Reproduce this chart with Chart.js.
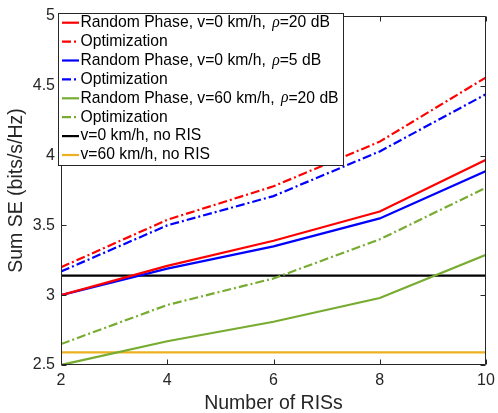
<!DOCTYPE html>
<html>
<head>
<meta charset="utf-8">
<script src="https://cdn.jsdelivr.net/npm/chart.js@4.4.0/dist/chart.umd.min.js"></script>
<style>
  body { margin: 0; background: #fff; }
  #wrap { width: 498px; height: 413px; }
</style>
</head>
<body>
<div id="wrap"><canvas id="my-chart" width="498" height="413"></canvas></div>
<script>
// number of RISs on the x axis
const risCounts = [2, 4, 6, 8, 10];
// sum SE values (bits/s/Hz)
const rpV0Rho20   = [3.00, 3.21, 3.39, 3.60, 3.97];
const optV0Rho20  = [3.20, 3.54, 3.78, 4.10, 4.56];
const rpV0Rho5    = [3.00, 3.19, 3.35, 3.55, 3.89];
const optV0Rho5   = [3.17, 3.50, 3.71, 4.03, 4.44];
const rpV60Rho20  = [2.50, 2.67, 2.81, 2.98, 3.29];
const optV60Rho20 = [2.65, 2.93, 3.12, 3.40, 3.77];
const noRisV0     = [3.14, 3.14, 3.14, 3.14, 3.14];
const noRisV60    = [2.59, 2.59, 2.59, 2.59, 2.59];
const xTicks = [2, 4, 6, 8, 10];
const yTicks = [2.5, 3, 3.5, 4, 4.5, 5];

const labels = [
  'Random Phase, v=0 km/h, ρ=20 dB', 'Optimization',
  'Random Phase, v=0 km/h, ρ=5 dB', 'Optimization',
  'Random Phase, v=60 km/h, ρ=20 dB', 'Optimization',
  'v=0 km/h, no RIS', 'v=60 km/h, no RIS'
];
const series = [rpV0Rho20, optV0Rho20, rpV0Rho5, optV0Rho5, rpV60Rho20, optV60Rho20, noRisV0, noRisV60];
const colors = ['#ff0000', '#ff0000', '#0000ff', '#0000ff', '#77ac30', '#77ac30', '#000000', '#edb120'];
const dashDot = [9, 3, 2, 3];
const dashes = [[], dashDot, [], dashDot, [], dashDot, [], []];

const ink = '#262626';
Chart.defaults.font.family = "'Liberation Sans', Arial, sans-serif";

const datasets = series.map((s, i) => ({
  label: labels[i],
  data: s.map((v, j) => ({x: risCounts[j], y: v})),
  borderColor: colors[i],
  borderDash: dashes[i],
  borderWidth: 2.2,
  pointRadius: 0,
  tension: 0,
  fill: false
}));

// axes box with inward ticks, matlab style
const frame = {
  id: 'frame',
  afterDatasetsDraw(chart) {
    const {ctx, chartArea: a, scales: {x, y}} = chart;
    const l = Math.round(a.left) + 0.5, r = Math.round(a.right) - 0.5;
    const t = Math.round(a.top) + 0.5, b = Math.round(a.bottom) - 0.5;
    ctx.save();
    ctx.strokeStyle = ink;
    ctx.lineWidth = 1;
    ctx.beginPath();
    ctx.rect(l, t, r - l, b - t);
    xTicks.forEach(v => {
      const px = Math.round(x.getPixelForValue(v)) + 0.5;
      ctx.moveTo(px, b); ctx.lineTo(px, b - 5);
      ctx.moveTo(px, t); ctx.lineTo(px, t + 5);
    });
    yTicks.forEach(v => {
      const py = Math.round(y.getPixelForValue(v)) + 0.5;
      ctx.moveTo(l, py); ctx.lineTo(l + 5, py);
      ctx.moveTo(r, py); ctx.lineTo(r - 5, py);
    });
    ctx.stroke();
    ctx.restore();
  }
};

// legend drawn inside the plot, top left
const legendBox = {
  id: 'legendBox',
  afterDraw(chart) {
    const ctx = chart.ctx;
    const bx = 58.5, by = 13.5, bw = 285, bh = 152;
    const font = "15.7px 'Liberation Sans', Arial, sans-serif";
    ctx.save();
    ctx.fillStyle = '#fff';
    ctx.fillRect(bx, by, bw, bh);
    ctx.strokeStyle = ink;
    ctx.lineWidth = 1;
    ctx.strokeRect(bx, by, bw, bh);
    ctx.textBaseline = 'middle';
    chart.data.datasets.forEach((ds, i) => {
      const cy = 22.7 + i * 18.9;
      ctx.strokeStyle = ds.borderColor;
      ctx.lineWidth = 2.2;
      ctx.setLineDash(ds.borderDash);
      ctx.beginPath();
      ctx.moveTo(62, cy); ctx.lineTo(79, cy);
      ctx.stroke();
      ctx.setLineDash([]);
      ctx.fillStyle = '#000';
      const parts = ds.label.split('ρ');
      let tx = 80.5;
      ctx.font = font;
      ctx.fillText(parts[0], tx, cy);
      if (parts.length > 1) {
        tx += ctx.measureText(parts[0]).width + 2;
        ctx.font = "italic 15.7px 'Liberation Serif', serif";
        ctx.fillText('ρ', tx, cy);
        tx += ctx.measureText('ρ').width;
        ctx.font = font;
        ctx.fillText(parts[1], tx, cy);
      }
    });
    ctx.restore();
  }
};

new Chart(document.getElementById('my-chart').getContext('2d'), {
  type: 'line',
  data: { datasets },
  plugins: [frame, legendBox],
  options: {
    responsive: false,
    animation: false,
    layout: { padding: { top: 16, right: 0, left: 0, bottom: 0 } },
    plugins: { legend: { display: false }, tooltip: { enabled: false } },
    scales: {
      x: {
        type: 'linear',
        min: 2, max: 10,
        afterBuildTicks: s => { s.ticks = xTicks.map(v => ({value: v})); },
        afterFit: s => { s.height = 48; s.paddingLeft = 0; s.paddingRight = 12; },
        grid: { display: false, drawTicks: false },
        border: { display: false },
        ticks: { color: ink, font: { size: 16 }, padding: 6, maxRotation: 0 },
        title: { display: true, text: 'Number of RISs', color: ink,
                 font: { size: 19.5, lineHeight: 1 }, padding: { top: 0, bottom: 0 } }
      },
      y: {
        min: 2.5, max: 5,
        afterBuildTicks: s => { s.ticks = yTicks.map(v => ({value: v})); },
        afterFit: s => { s.width = 61; s.paddingTop = 0; s.paddingBottom = 0; },
        grid: { display: false, drawTicks: false },
        border: { display: false },
        ticks: { color: ink, font: { size: 16 }, padding: 6, callback: v => String(v) },
        title: { display: true, text: 'Sum SE (bits/s/Hz)', color: ink,
                 font: { size: 19.5, lineHeight: 1 }, padding: { top: 7, bottom: 0 } }
      }
    }
  }
});
</script>
</body>
</html>
